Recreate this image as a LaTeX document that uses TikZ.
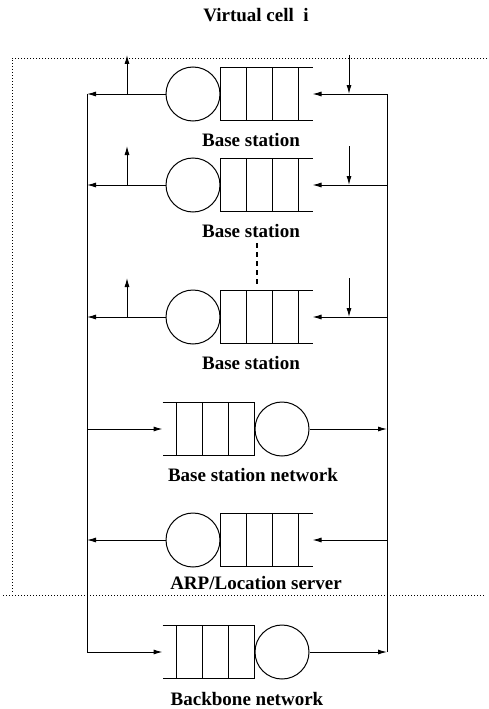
\documentclass[tikz,border=0pt]{standalone}
\usepackage{fontspec}
\setmainfont{Liberation Serif}
\usetikzlibrary{positioning,arrows.meta,calc}

\tikzset{
  server/.style={circle, draw, line width=1pt, minimum size=54pt, inner sep=0pt},
  buffer/.style={minimum width=91pt, minimum height=52pt, inner sep=0pt},
  flow/.style={line width=1pt, -{Latex[length=9pt,width=5pt]}},
  caption/.style={font=\fontsize{19}{22}\selectfont\bfseries},
  frame/.style={dash pattern=on 1pt off 2pt, line width=0.7pt}
}

\begin{document}
\begin{tikzpicture}[x=1pt, y=-1pt, line width=1pt]
  \useasboundingbox (0,0) rectangle (489,709);
  % Title
  \node[caption] (title) at (256,15) {Virtual cell~~i};
  % Virtual cell frame (dotted)
  \draw[frame] (487,58) -- (12,58) -- (12,592);
  \draw[frame] (3,595) -- (485,595);
  % Stations serving leftwards (server on the left, queue open to the right)
  \foreach \n/\y in {bsa/94,bsb/185,bsc/317,arp/540}{
    \node[server] (s\n) at (193,\y) {};
    \node[buffer, anchor=west] (q\n) at (s\n.east) {};
    \draw (q\n.north east) -- (q\n.north west) -- (q\n.south west) -- (q\n.south east);
    \foreach \d in {26,52,78}
      \draw ([xshift=\d pt]q\n.north west) -- ([xshift=\d pt]q\n.south west);
    \coordinate (l\n) at (87,\y);
    \coordinate (r\n) at (387,\y);
    \draw[flow] (s\n.west) -- (l\n);
    \draw[flow] (r\n) -- (q\n.east);
  }
  % Base stations: local traffic in and out
  \foreach \n/\y in {bsa/94,bsb/185,bsc/317}{
    \coordinate (ufrom\n) at (127,\y);
    \coordinate (uto\n) at (127,\y-39);
    \coordinate (dfrom\n) at (349,\y-39);
    \coordinate (dto\n) at (349,\y);
    \draw[flow] (ufrom\n) -- (uto\n);
    \draw[flow] (dfrom\n) -- (dto\n);
    \node[caption] (c\n) at (251,\y+46) {Base station};
  }
  \node[caption] (carp) at (256,583) {ARP/Location server};
  % More base stations
  \draw[line width=1.6pt, dash pattern=on 5pt off 4pt] (257,243) -- (257,285);
  % Stations serving rightwards (queue open to the left, server on the right)
  \foreach \n/\y in {bsn/429,bbn/652}{
    \node[server] (s\n) at (282,\y) {};
    \node[buffer, anchor=east] (q\n) at (s\n.west) {};
    \draw (q\n.north west) -- (q\n.north east) -- (q\n.south east) -- (q\n.south west);
    \foreach \d in {26,52,78}
      \draw ([xshift=-\d pt]q\n.north east) -- ([xshift=-\d pt]q\n.south east);
    \coordinate (l\n) at (87,\y);
    \coordinate (r\n) at (387,\y);
    \draw[flow] (l\n) -- (q\n.west);
    \draw[flow] (s\n.east) -- (r\n);
  }
  \node[caption] (cbsn) at (253,475) {Base station network};
  \node[caption] (cbbn) at (247,699) {Backbone network};
  % Buses
  \draw (lbsa) -- (lbbn);
  \draw (rbsa) -- (rbbn);
\end{tikzpicture}
\end{document}
